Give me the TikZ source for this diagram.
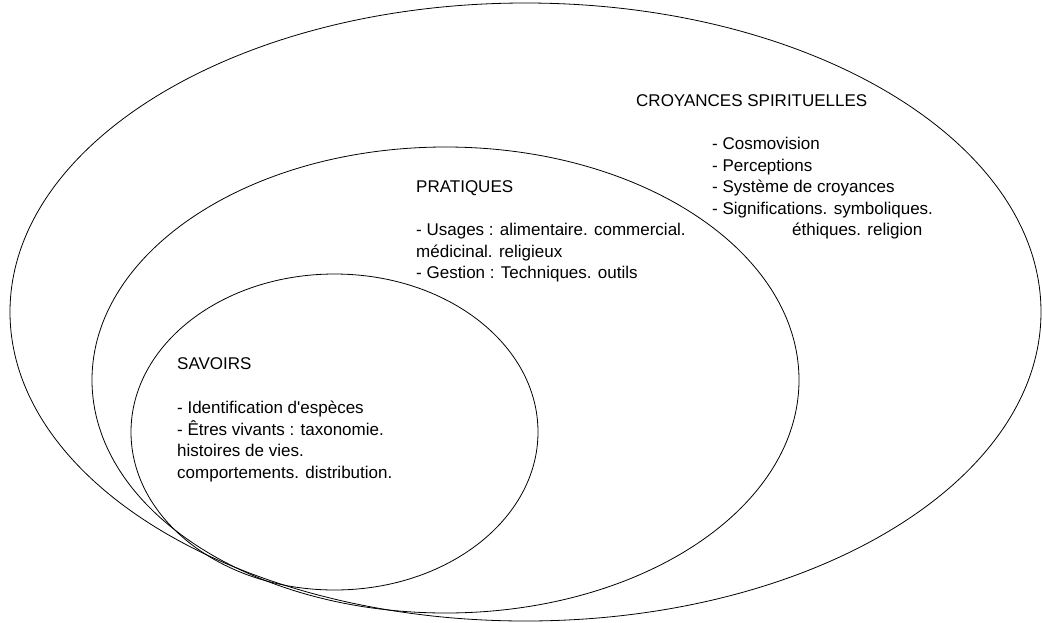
\documentclass[tikz,border=0pt]{standalone}
\usepackage{fontspec}
\setmainfont{Liberation Sans}
\usetikzlibrary{shapes.geometric}

\begin{document}
\begin{tikzpicture}[x=1pt, y=-1pt, line join=round, line cap=round,
    ring/.style={draw, ellipse, inner sep=0pt, line width=0.8pt},
    blocktext/.style={anchor=north west, inner sep=0pt, align=left,
      font=\fontsize{17}{21.5}\selectfont}]
  \useasboundingbox (0,0) rectangle (1042,622);

  % --- nested rings, outer to inner ---
  \node[ring, minimum width=1031pt, minimum height=618pt] (croyances) at (525.5,312) {};
  \node[ring, minimum width=707pt, minimum height=466pt] (pratiques) at (445.5,380) {};
  \node[ring, minimum width=407pt, minimum height=316pt] (savoirs) at (334.5,432) {};

  % --- CROYANCES SPIRITUELLES ---
  \node[blocktext] (croyhead) at (636,94) {CROYANCES SPIRITUELLES};
  \node[blocktext] (croylist) at (712,137) {- Cosmovision\\
    - Perceptions\\
    - Système de croyances\\
    - Significations. symboliques.\\
    \hspace*{80pt}éthiques. religion};

  % --- PRATIQUES ---
  \node[blocktext] (prahead) at (416,180) {PRATIQUES};
  \node[blocktext] (pralist) at (416,223) {- Usages : alimentaire. commercial.\\
    médicinal. religieux\\
    - Gestion : Techniques. outils};

  % --- SAVOIRS ---
  \node[blocktext] (savhead) at (177,357) {SAVOIRS};
  \node[blocktext] (savlist) at (177,401) {- Identification d\textquotesingle espèces\\
    - Êtres vivants : taxonomie.\\
    histoires de vies.\\
    comportements. distribution.};
\end{tikzpicture}
\end{document}
